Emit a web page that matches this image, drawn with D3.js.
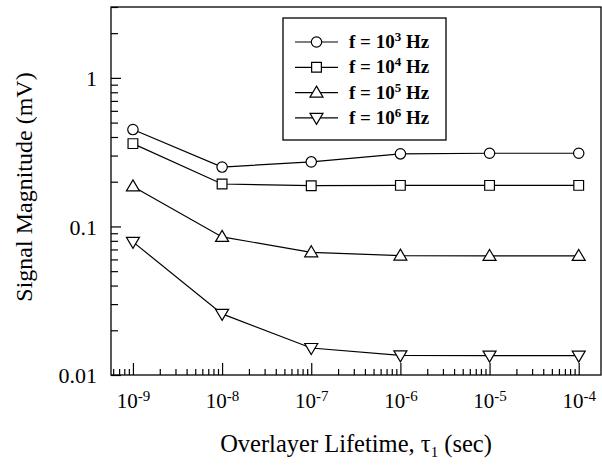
<!DOCTYPE html>
<html>
<head>
<meta charset="utf-8">
<script src="https://cdn.jsdelivr.net/npm/d3@7"></script>
<style>
  body { margin: 0; background: #fff; }
  text { font-family: "Liberation Serif", "Times New Roman", serif; fill: #000; }
</style>
</head>
<body>
<div id="chart"></div>
<script>
// lifetimes (sec)
const lifetimes = [1e-9, 1e-8, 1e-7, 1e-6, 1e-5, 1e-4];

// signal magnitude (mV) for each frequency
const f1e3 = [0.449, 0.251, 0.272, 0.308, 0.311, 0.311];
const f1e4 = [0.361, 0.193, 0.188, 0.189, 0.189, 0.189];
const f1e5 = [0.186, 0.085, 0.067, 0.0636, 0.0633, 0.0633];
const f1e6 = [0.0787, 0.0258, 0.0152, 0.01355, 0.0135, 0.0135];

const seriesNames = ["3", "4", "5", "6"];   // exponents for legend
const markers = ["circle", "square", "up", "down"];
const seriesData = [f1e3, f1e4, f1e5, f1e6];

const xMajor = [-9, -8, -7, -6, -5, -4];
const yMajor = [0.01, 0.1, 1];
const yMajorLabels = ["0.01", "0.1", "1"];

const W = 602, H = 466;
const margin = { top: 7, right: 1, bottom: 91, left: 111 };
const width = W - margin.left - margin.right;
const height = H - margin.top - margin.bottom;

const svg = d3.select("#chart").append("svg")
    .attr("width", W)
    .attr("height", H);

const g = svg.append("g")
    .attr("transform", `translate(${margin.left},${margin.top})`);

const x = d3.scaleLog()
    .domain([Math.pow(10, -9.246), Math.pow(10, -3.75)])
    .range([0, width]);

const y = d3.scaleLog()
    .domain([0.01, 3])
    .range([height, 0]);

// minor tick values
function minors(scale) {
    const [a, b] = scale.domain();
    const out = [];
    for (let e = Math.floor(Math.log10(a)); e <= Math.ceil(Math.log10(b)); e++) {
        for (let m = 2; m <= 9; m++) {
            const v = m * Math.pow(10, e);
            if (v >= a && v <= b) out.push(v);
        }
    }
    return out;
}

// frame
g.append("rect")
    .attr("width", width)
    .attr("height", height)
    .attr("fill", "none")
    .attr("stroke", "#000")
    .attr("stroke-width", 1.3);

// x axis minor + major ticks (pointing inward)
g.append("g")
    .attr("transform", `translate(0,${height})`)
    .call(d3.axisBottom(x).tickValues(minors(x)).tickSize(-6).tickFormat(""))
    .call(s => s.select(".domain").remove());

const xAx = g.append("g")
    .attr("transform", `translate(0,${height})`)
    .call(d3.axisBottom(x).tickValues(xMajor.map(e => Math.pow(10, e))).tickSize(-12).tickFormat(""))
    .call(s => s.select(".domain").remove());

xAx.selectAll(".tick").each(function(d, i) {
    const t = d3.select(this).append("text")
        .attr("y", 33)
        .attr("text-anchor", "middle")
        .attr("font-size", 21);
    t.append("tspan").text("10");
    t.append("tspan").attr("dy", -7).attr("font-size", 15).text(xMajor[i]);
});

// y axis minor + major ticks
g.append("g")
    .call(d3.axisLeft(y).tickValues(minors(y)).tickSize(-7).tickFormat(""))
    .call(s => s.select(".domain").remove());

g.append("g")
    .call(d3.axisLeft(y).tickValues(yMajor).tickSize(-10).tickPadding(14)
        .tickFormat((d, i) => yMajorLabels[i]))
    .call(s => s.select(".domain").remove())
    .call(s => s.selectAll("text").attr("font-size", 22).attr("dy", "0.36em"));

g.selectAll(".tick line").attr("stroke", "#000").attr("stroke-width", 1.2);

// marker shapes
function markerPath(type) {
    if (type === "circle") return d3.symbol(d3.symbolCircle, 85)();
    if (type === "square") return d3.symbol(d3.symbolSquare, 95)();
    const s = type === "up" ? 1 : -1;
    return `M0,${-6.5 * s}L6.5,${4.5 * s}L-6.5,${4.5 * s}Z`;
}

const line = d3.line()
    .x((d, i) => x(lifetimes[i]))
    .y(d => y(d));

seriesData.forEach((vals, k) => {
    g.append("path")
        .datum(vals)
        .attr("d", line)
        .attr("fill", "none")
        .attr("stroke", "#000")
        .attr("stroke-width", 1.2);

    g.selectAll(".m" + k)
        .data(vals)
        .enter()
        .append("path")
        .attr("class", "m" + k)
        .attr("transform", (d, i) => `translate(${x(lifetimes[i])},${y(d)})`)
        .attr("d", markerPath(markers[k]))
        .attr("fill", "#fff")
        .attr("stroke", "#000")
        .attr("stroke-width", 1.2);
});

// legend
const legend = svg.append("g").attr("transform", "translate(283,18)");
legend.append("rect")
    .attr("width", 163)
    .attr("height", 122)
    .attr("fill", "#fff")
    .attr("stroke", "#000")
    .attr("stroke-width", 1.3);

seriesNames.forEach((n, k) => {
    const row = legend.append("g").attr("transform", `translate(0,${24 + k * 25.3})`);
    row.append("line")
        .attr("x1", 12).attr("x2", 55)
        .attr("stroke", "#000").attr("stroke-width", 1.2);
    row.append("path")
        .attr("transform", "translate(33.5,0)")
        .attr("d", markerPath(markers[k]))
        .attr("fill", "#fff")
        .attr("stroke", "#000")
        .attr("stroke-width", 1.2);
    const t = row.append("text")
        .attr("x", 66)
        .attr("y", 6)
        .attr("font-size", 19)
        .attr("font-weight", "bold");
    t.append("tspan").text("f = 10");
    t.append("tspan").attr("dy", -7).attr("font-size", 13).text(n);
    t.append("tspan").attr("dy", 7).text(" Hz");
});

// axis titles
svg.append("text")
    .attr("x", 356)
    .attr("y", 452)
    .attr("text-anchor", "middle")
    .attr("font-size", 24.5)
    .call(t => {
        t.append("tspan").text("Overlayer Lifetime, τ");
        t.append("tspan").attr("dy", 5).attr("font-size", 15).text("1");
        t.append("tspan").attr("dy", -5).text(" (sec)");
    });

svg.append("text")
    .attr("transform", "translate(32,187) rotate(-90)")
    .attr("text-anchor", "middle")
    .attr("font-size", 24)
    .text("Signal Magnitude (mV)");
</script>
</body>
</html>
